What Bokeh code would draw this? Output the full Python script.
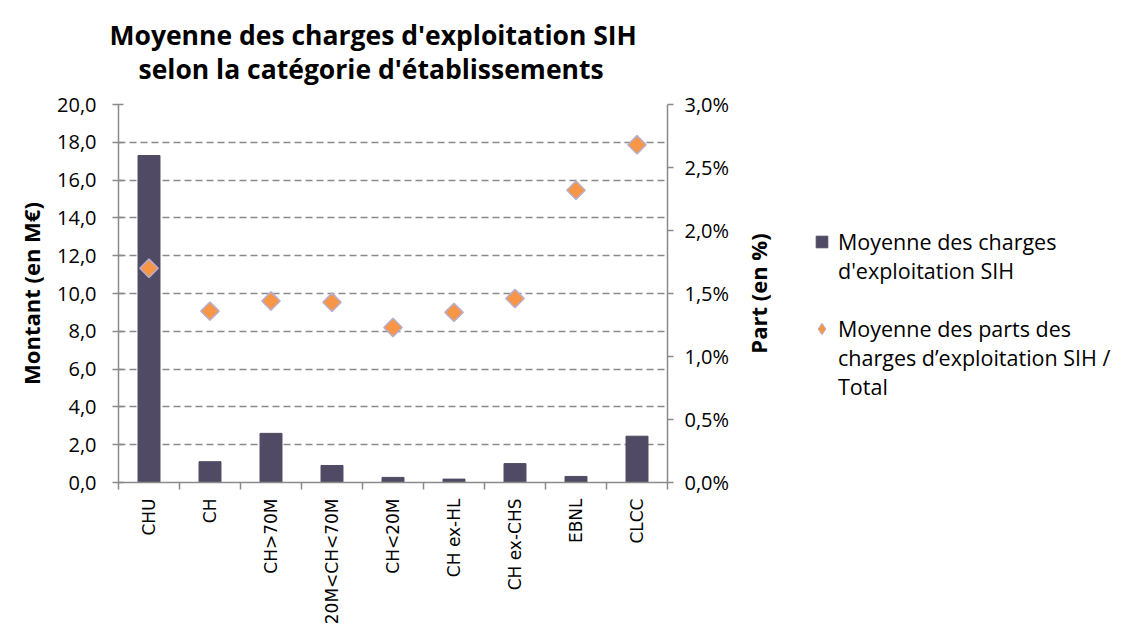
import math
from bokeh.plotting import figure
from bokeh.layouts import row
from bokeh.models import (Range1d, LinearAxis, FixedTicker, CustomJSTickFormatter,
                          Legend, LegendItem, ColumnDataSource, Title, Label)
from bokeh.embed import file_html
from bokeh.resources import INLINE

categories = ["CHU", "CH", "CH>70M", "20M<CH<70M", "CH<20M", "CH ex-HL", "CH ex-CHS", "EBNL", "CLCC"]
montant = [17.3, 1.1, 2.6, 0.9, 0.27, 0.18, 1.0, 0.32, 2.45]          # M€
part = [1.70, 1.36, 1.44, 1.43, 1.23, 1.35, 1.46, 2.32, 2.68]          # %
left_ticks = [0, 2, 4, 6, 8, 10, 12, 14, 16, 18, 20]
right_ticks = [0, 0.5, 1.0, 1.5, 2.0, 2.5, 3.0]
title_lines = ["Moyenne des charges d'exploitation SIH", "selon la catégorie d'établissements"]
legend_bar = ["Moyenne des charges", "d'exploitation SIH"]
legend_pt = ["Moyenne des parts des", "charges d’exploitation SIH /", "Total"]

xpos = [i + 0.5 for i in range(len(categories))]
bounds = list(range(len(categories) + 1))
src = ColumnDataSource(dict(x=xpos, montant=montant, part=part, cat=categories))

FONT = "Open Sans"
GRAY = "#8A8A8A"
BAR = "#504A64"
ORANGE = "#F79646"
LAV = "#B8AECF"
LEFT = 118
TOP = 104
FW, FH = 549, 378
BOTTOM = 147
RIGHT = 72
H = TOP + FH + BOTTOM
W1 = LEFT + FW + RIGHT

p = figure(frame_width=FW, frame_height=FH, output_backend="svg", toolbar_location=None,
           x_range=Range1d(0, len(categories)), y_range=Range1d(0, 20), title=None,
           min_border_left=LEFT, min_border_top=TOP, min_border_bottom=BOTTOM,
           min_border_right=RIGHT)
p.extra_y_ranges = {"pct": Range1d(0, 3)}
p.outline_line_color = None
p.background_fill_color = "white"

# two title lines, each centred like the original
t2 = Title(text=title_lines[1], align="left", offset=20, vertical_align="top",
           text_font=FONT, text_font_size="26.5px", text_font_style="bold",
           text_color="black", standoff=31)
p.add_layout(t2, "above")
t1 = Title(text=title_lines[0], align="left", offset=-9, vertical_align="bottom",
           text_font=FONT, text_font_size="26.5px", text_font_style="bold",
           text_color="black", standoff=-34)
p.add_layout(t1, "above")

# Left axis
ax = p.yaxis[0]
ax.ticker = FixedTicker(ticks=left_ticks)
ax.formatter = CustomJSTickFormatter(code="return tick.toFixed(1).replace('.', ',');")
ax.axis_label = "Montant (en M€)"
ax.axis_label_text_font = FONT
ax.axis_label_text_font_style = "bold"
ax.axis_label_text_font_size = "22px"
ax.axis_label_text_color = "black"
ax.axis_label_standoff = 8
ax.major_label_text_font = FONT
ax.major_label_text_font_size = "20px"
ax.major_label_text_color = "black"
ax.major_label_standoff = 16
ax.axis_line_color = GRAY
ax.axis_line_width = 1.5
ax.major_tick_line_color = GRAY
ax.major_tick_line_width = 1.5
ax.major_tick_in = 5
ax.major_tick_out = 6
ax.minor_tick_line_color = None

# Right axis (its title is drawn in the neighbouring panel, centred on the frame)
ra = LinearAxis(y_range_name="pct", ticker=FixedTicker(ticks=right_ticks),
                formatter=CustomJSTickFormatter(code="return tick.toFixed(1).replace('.', ',') + '%';"))
ra.major_label_text_font = FONT
ra.major_label_text_font_size = "20px"
ra.major_label_text_color = "black"
ra.major_label_standoff = 11
ra.axis_line_color = GRAY
ra.axis_line_width = 1.5
ra.major_tick_line_color = GRAY
ra.major_tick_line_width = 1.5
ra.major_tick_in = 0
ra.major_tick_out = 6
ra.minor_tick_line_color = None
p.add_layout(ra, "right")

# X axis
xa = p.xaxis[0]
xa.ticker = FixedTicker(ticks=xpos, minor_ticks=bounds)
xa.formatter = CustomJSTickFormatter(args=dict(labels=categories),
                                     code="return labels[Math.floor(tick)];")
xa.major_label_orientation = math.pi / 2
xa.major_label_text_font = "DejaVu Sans"
xa.major_label_text_font_size = "17px"
xa.major_label_text_color = "black"
xa.major_tick_out = 0
xa.major_tick_in = 0
xa.major_label_standoff = 9
xa.minor_tick_out = 7
xa.minor_tick_in = 0
xa.minor_tick_line_color = GRAY
xa.minor_tick_line_width = 1.5
xa.axis_line_color = GRAY
xa.axis_line_width = 1.5

# Grid
p.xgrid.grid_line_color = None
p.ygrid.ticker = FixedTicker(ticks=left_ticks[1:])
p.ygrid.grid_line_color = GRAY
p.ygrid.grid_line_dash = "7 4"
p.ygrid.grid_line_width = 1.5

bars = p.vbar(x="x", top="montant", width=0.36, bottom=0, source=src,
              fill_color=BAR, line_color=BAR)
pts = p.scatter(x="x", y="part", y_range_name="pct", source=src, marker="square",
                angle=math.pi / 4, size=13, fill_color=ORANGE, line_color=LAV, line_width=1.5)

# ---- right-hand panel: right axis title + legend (frame aligned with the chart frame) ----
W2 = 1129 - W1
p2 = figure(width=W2, height=H, output_backend="svg", toolbar_location=None,
            x_range=Range1d(0, 1), y_range=Range1d(0, 1), x_axis_type=None, y_axis_type=None,
            min_border_left=0, min_border_right=0, min_border_top=TOP,
            min_border_bottom=BOTTOM, title=None)
p2.outline_line_color = None
p2.grid.grid_line_color = None

p2.add_layout(Label(x=18, y=FH / 2, x_units="screen", y_units="screen", text="Part (en %)",
                    angle=math.pi / 2, text_align="center", text_baseline="middle",
                    text_font=FONT, text_font_size="22px", text_font_style="bold",
                    text_color="black"))

nan = float("nan")
sw_bar = p2.scatter(x=[nan], y=[nan], marker="square", fill_color=BAR, line_color=BAR)
sw_pt = p2.scatter(x=[nan], y=[nan], marker="diamond", fill_color=ORANGE, line_color=LAV, line_width=1)
blank = p2.scatter(x=[nan], y=[nan], marker="circle", fill_alpha=0, line_alpha=0)

items = [LegendItem(label=legend_bar[0], renderers=[sw_bar]),
         LegendItem(label=legend_bar[1], renderers=[blank]),
         LegendItem(label=" ", renderers=[blank]),
         LegendItem(label=legend_pt[0], renderers=[sw_pt]),
         LegendItem(label=legend_pt[1], renderers=[blank]),
         LegendItem(label=legend_pt[2], renderers=[blank])]
leg = Legend(items=items, location=(68, 81))
leg.label_text_font = FONT
leg.label_text_font_size = "21.5px"
leg.label_text_color = "black"
leg.border_line_color = None
leg.background_fill_alpha = 0
leg.spacing = 0
leg.padding = 0
leg.margin = 0
leg.label_height = 29
leg.glyph_width = 29
leg.glyph_height = 29
leg.label_standoff = 2
p2.add_layout(leg)

layout = row(p, p2)
open("out.html", "w").write(file_html(layout, INLINE))
